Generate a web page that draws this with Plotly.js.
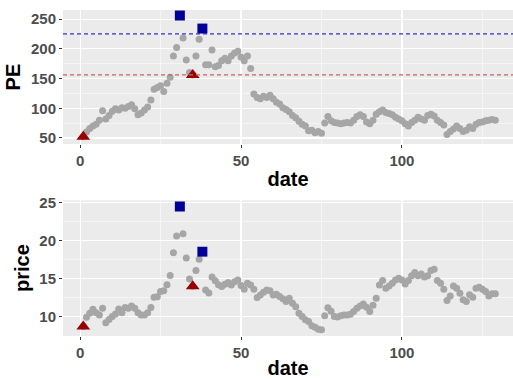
<!DOCTYPE html>
<html>
<head>
<meta charset="utf-8">
<script src="https://cdn.plot.ly/plotly-3.0.1.min.js"></script>
<style>html,body{margin:0;padding:0;background:#fff;}#chart{width:513px;height:379px;}</style>
</head>
<body>
<div id="chart"></div>
<script>
// dates 1..129
var dates = [];
for (var i = 1; i <= 129; i++) dates.push(i);

var pe = [52,60,66,70,73,80,96,82,88,95,99,97,101,100,103,106,99,89,92,97,
          102,114,132,135,138,128,142,152,188,202,256,218,181,160,156,188,216,234,173,173,
          198,170,172,180,184,180,188,193,196,186,180,188,167,124,118,116,120,118,122,116,
          110,107,101,98,94,88,84,78,73,70,62,63,59,61,58,75,86,79,76,75,
          74,75,76,75,80,86,89,86,77,74,80,90,94,97,93,91,89,85,82,79,
          74,70,76,80,85,82,80,88,90,87,80,76,72,56,61,65,70,66,61,63,
          69,66,73,76,77,79,80,81,80];

var price = [8.7,9.9,10.45,10.97,10.5,10.2,11.1,9.2,9.6,10.0,10.35,11.0,10.5,11.2,11.1,11.4,11.1,10.5,10.2,10.2,
             10.5,11.2,12.55,12.6,13.3,13.4,14.2,15.4,18.4,20.6,24.5,20.9,17.7,14.95,14.0,16.05,17.55,18.55,13.5,13.1,
             15.2,14.7,14.2,13.95,14.26,14.5,14.17,14.6,14.8,14.08,13.6,14.4,14.17,13.6,12.5,12.85,13.2,13.5,13.4,12.85,
             12.95,12.63,12.33,11.97,12.4,11.76,11.3,10.45,10.0,9.57,9.34,8.78,8.6,8.34,8.25,10.1,11.15,10.7,10.0,9.95,
             10.1,10.2,10.2,10.3,10.66,11.1,11.4,11.66,11.23,10.66,11.5,12.4,14.17,14.74,13.73,14.04,14.4,14.83,15.05,14.83,
             14.3,14.74,15.36,15.8,15.36,15.6,15.2,15.36,16.05,16.24,14.74,14.4,13.6,12.1,12.7,14.04,13.73,13.08,12.2,11.97,
             12.86,12.55,13.73,13.86,13.6,13.29,12.7,12.99,12.99];

// signal points (dates)
var buyDates = [1, 35];
var sellDates = [31, 38];
// threshold lines
var peLow = 156;
var peHigh = 225;

function pick(arr, ds) { return ds.map(function (d) { return arr[d - 1]; }); }

var gray = '#A6A6A6';
var traces = [
  {x: dates, y: pe, xaxis: 'x', yaxis: 'y', mode: 'markers', type: 'scatter',
   marker: {color: gray, size: 7}},
  {x: buyDates, y: pick(pe, buyDates), xaxis: 'x', yaxis: 'y', mode: 'markers', type: 'scatter',
   marker: {color: '#990000', size: 12, symbol: 'triangle-up'}},
  {x: sellDates, y: pick(pe, sellDates), xaxis: 'x', yaxis: 'y', mode: 'markers', type: 'scatter',
   marker: {color: '#000099', size: 10, symbol: 'square'}},
  {x: dates, y: price, xaxis: 'x2', yaxis: 'y2', mode: 'markers', type: 'scatter',
   marker: {color: gray, size: 7}},
  {x: buyDates, y: pick(price, buyDates), xaxis: 'x2', yaxis: 'y2', mode: 'markers', type: 'scatter',
   marker: {color: '#990000', size: 12, symbol: 'triangle-up'}},
  {x: sellDates, y: pick(price, sellDates), xaxis: 'x2', yaxis: 'y2', mode: 'markers', type: 'scatter',
   marker: {color: '#000099', size: 10, symbol: 'square'}}
];

var tickFont = {family: 'Liberation Sans, Arial, sans-serif', size: 15, color: '#4D4D4D', weight: 'bold'};
var titleFont = {family: 'Liberation Sans, Arial, sans-serif', size: 20, color: '#000000', weight: 'bold'};

function xax(anchor, standoff) {
  return {
    anchor: anchor, domain: [0, 1], range: [-5.3, 134.5],
    tickvals: [0, 50, 100], ticktext: ['0', '50', '100'],
    showgrid: true, gridcolor: '#FFFFFF', gridwidth: 1.1,
    minor: {tickvals: [25, 75, 125], showgrid: true, gridcolor: '#FFFFFF', gridwidth: 0.5},
    zeroline: false, showline: false,
    ticks: 'outside', ticklen: 3, tickcolor: '#333333', tickwidth: 1,
    tickfont: tickFont,
    title: {text: 'date', font: titleFont, standoff: standoff}
  };
}
function yax(anchor, dom, range, tv, minorv, title) {
  return {
    anchor: anchor, domain: dom, range: range,
    tickvals: tv, ticktext: tv.map(String),
    showgrid: true, gridcolor: '#FFFFFF', gridwidth: 1.1,
    minor: {tickvals: minorv, showgrid: true, gridcolor: '#FFFFFF', gridwidth: 0.5},
    zeroline: false, showline: false,
    ticks: 'outside', ticklen: 3, tickcolor: '#333333', tickwidth: 1,
    tickfont: tickFont,
    title: {text: title, font: titleFont, standoff: 4}
  };
}

var layout = {
  width: 513, height: 379,
  margin: {l: 63, r: 0, t: 10, b: 43, pad: 0},
  paper_bgcolor: '#FFFFFF',
  plot_bgcolor: '#EBEBEB',
  showlegend: false,
  xaxis: xax('y', 3),
  yaxis: yax('x', [0.5887, 1], [39.75, 265.25], [50, 100, 150, 200, 250], [75, 125, 175, 225], 'PE'),
  xaxis2: xax('y2', 8),
  yaxis2: yax('x2', [0, 0.4163], [7.44, 25.31], [10, 15, 20, 25], [12.5, 17.5, 22.5], 'price'),
  shapes: [
    {type: 'line', xref: 'x domain', yref: 'y', x0: 0, x1: 1, y0: peHigh, y1: peHigh,
     line: {color: '#2E2EC8', width: 1.2, dash: '4px,3px'}},
    {type: 'line', xref: 'x domain', yref: 'y', x0: 0, x1: 1, y0: peLow, y1: peLow,
     line: {color: '#C86464', width: 1.2, dash: '4px,3px'}}
  ]
};

Plotly.newPlot('chart', traces, layout, {displayModeBar: false, staticPlot: true});
</script>
</body>
</html>
